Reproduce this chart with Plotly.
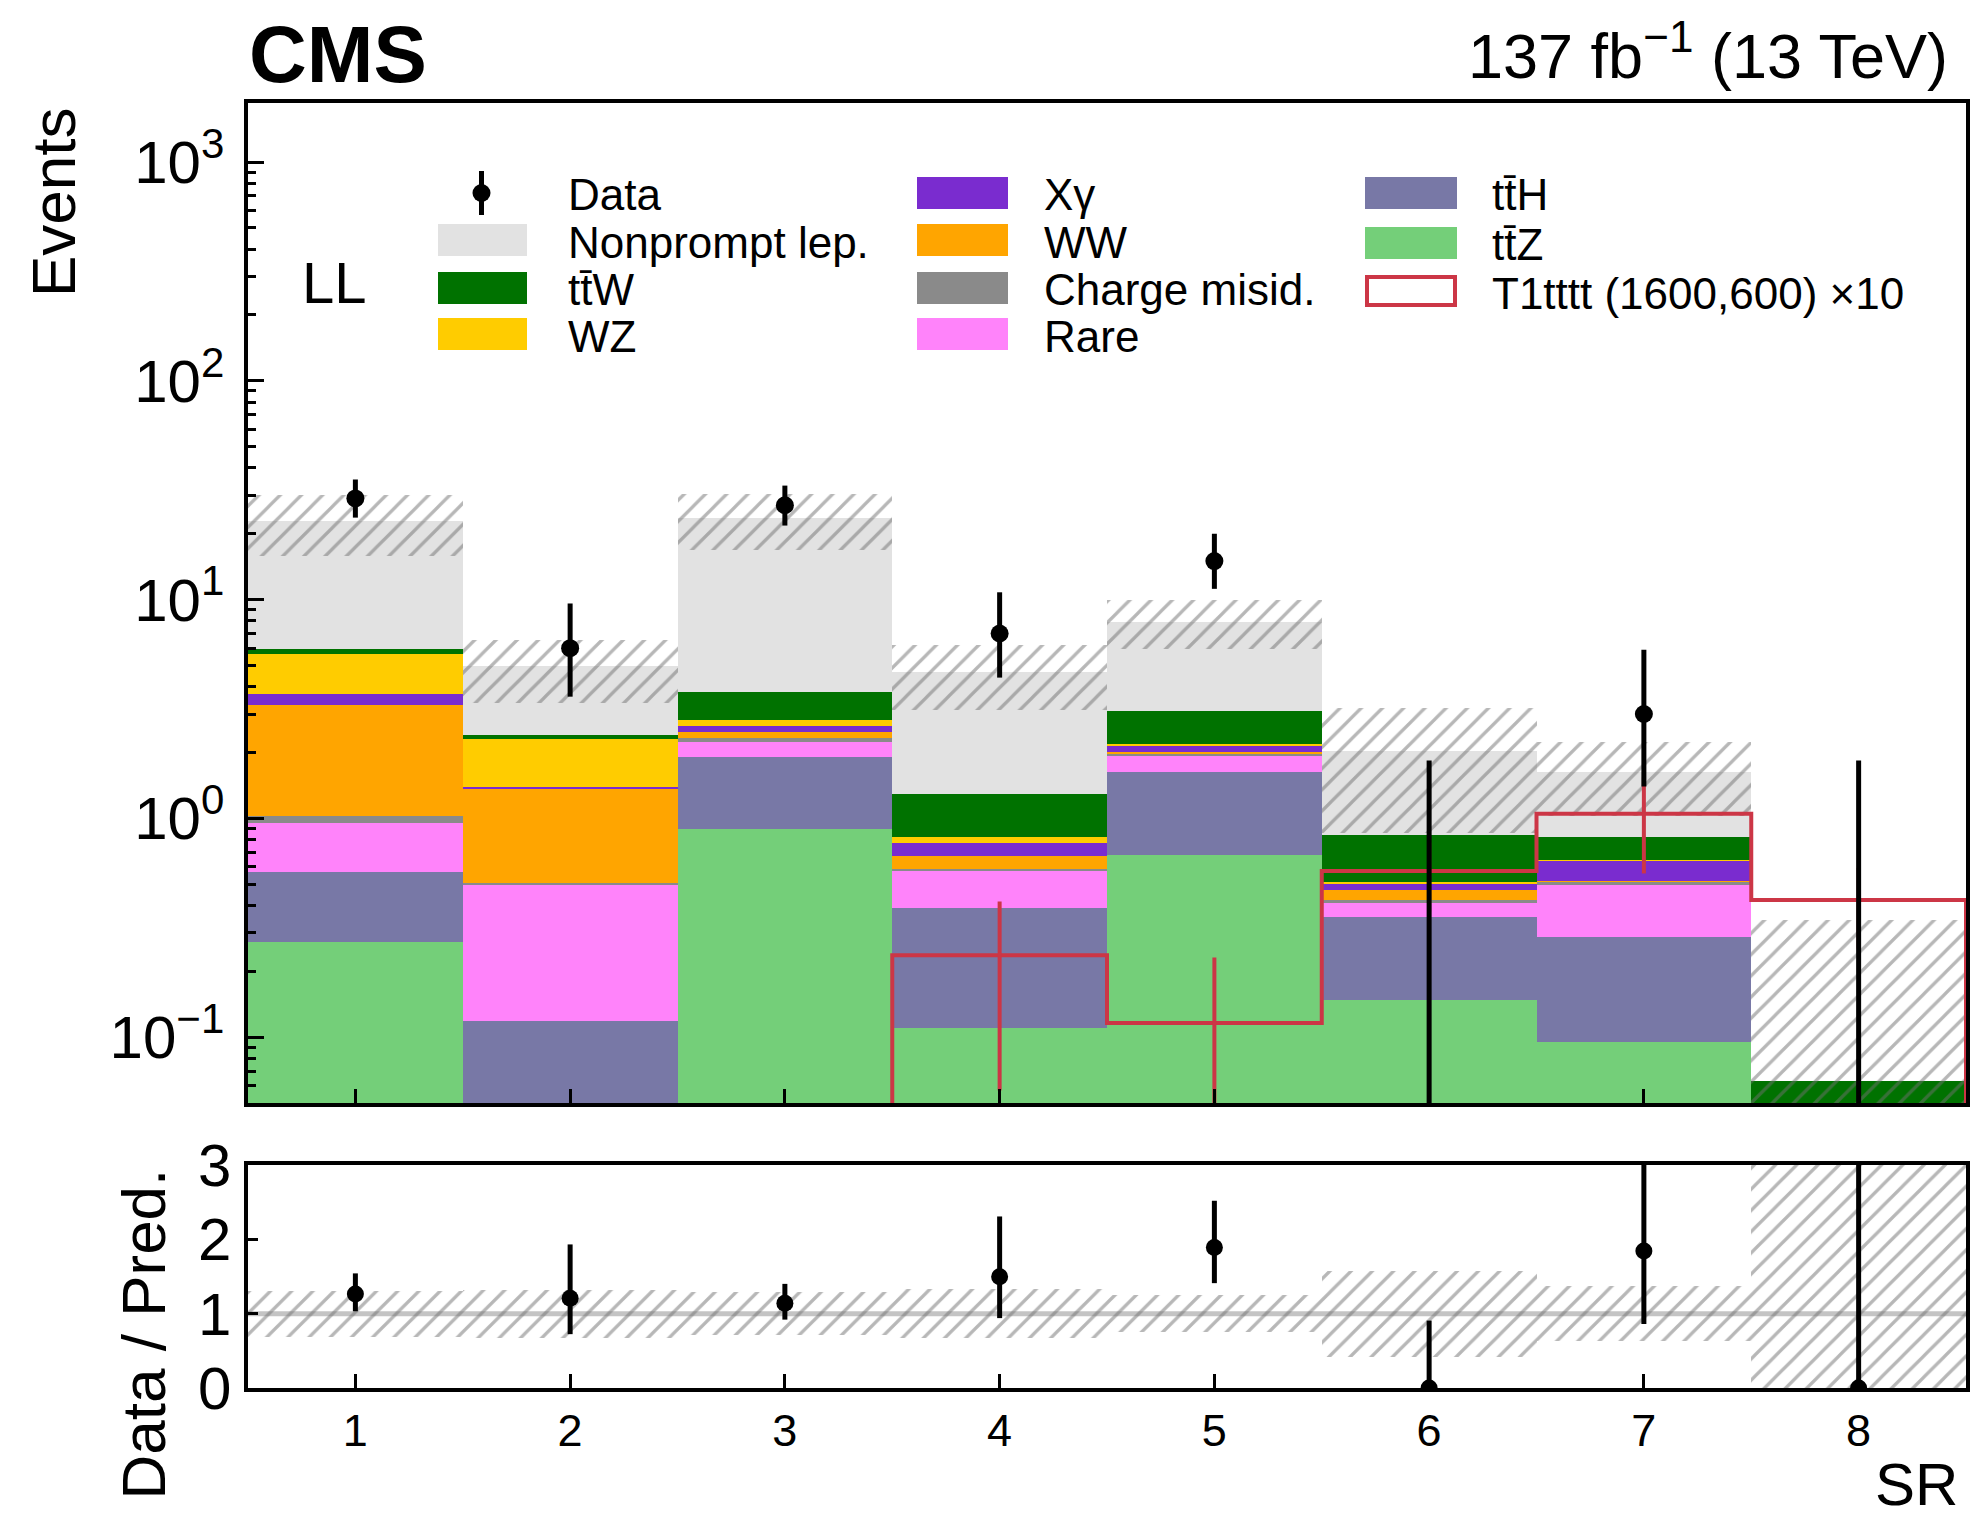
import numpy as np
import plotly.graph_objects as go

# ---------------- data ----------------
bins = [1, 2, 3, 4, 5, 6, 7, 8]
bin_labels = ["1", "2", "3", "4", "5", "6", "7", "8"]

ttZ       = [0.27, 0.02, 0.895, 0.109, 0.676, 0.147, 0.094, 0.0]
ttH       = [0.30, 0.097, 1.015, 0.279, 0.954, 0.207, 0.193, 0.0]
rare      = [0.385, 0.383, 0.33, 0.188, 0.29, 0.056, 0.207, 0.0]
chargemis = [0.065, 0.005, 0.09, 0.012, 0.06, 0.014, 0.018, 0.0]
ww        = [2.26, 0.87, 0.15, 0.082, 0.02, 0.046, 0.003, 0.0]
xgamma    = [0.41, 0.01, 0.15, 0.097, 0.16, 0.034, 0.123, 0.0]
wz        = [1.98, 0.925, 0.19, 0.053, 0.02, 0.007, 0.003, 0.0]
ttW       = [0.29, 0.10, 0.98, 0.47, 0.92, 0.328, 0.176, 0.062]
nonprompt = [17.0, 2.56, 19.9, 3.39, 4.84, 1.19, 0.81, 0.0]

bkg_unc = [7.1, 1.6, 6.8, 1.55, 2.0, 1.17, 0.6, 0.28]

data        = [29, 6, 27, 7, 15, 0, 3, 0]
data_err_lo = [5.3, 2.4, 5.2, 2.6, 3.8, 0.0, 1.6, 0.0]
data_err_hi = [6.4, 3.6, 6.2, 3.8, 5.0, 1.84, 2.9, 1.84]

signal     = [0.0, 0.0, 0.0, 0.237, 0.116, 0.575, 1.05, 0.424]
signal_err = [0.0, 0.0, 0.0, 0.18, 0.115, 0.2, 0.49, 0.17]

y_ticks = [0.1, 1, 10, 100, 1000]
y_ticktext = ["10<sup>\u22121</sup>", "10<sup>0</sup>", "10<sup>1</sup>",
              "10<sup>2</sup>", "10<sup>3</sup>"]
r_ticks = [0, 1, 2, 3]

# ---------------- styles ----------------
FONT = "Liberation Sans, Arial, Helvetica, sans-serif"
W, H = 1973, 1522
C = {
    "ttZ": "#74cf79", "ttH": "#7878a6", "Rare": "#ff83fa", "Charge": "#8a8a8a",
    "WW": "#ffa500", "Xg": "#7a2ccf", "WZ": "#ffcc00", "ttW": "#007200",
    "Nonprompt": "#e2e2e2", "Signal": "#cc3646",
}
HATCH = dict(shape="/", fgcolor="#707070", bgcolor="rgba(0,0,0,0)",
             size=15, solidity=0.22, fillmode="overlay")
FLOOR = 1e-3


def px(x):
    return x / W


def py(y):
    return 1 - y / H


components = [
    ("tt\u0304Z", ttZ, C["ttZ"]),
    ("tt\u0304H", ttH, C["ttH"]),
    ("Rare", rare, C["Rare"]),
    ("Charge misid.", chargemis, C["Charge"]),
    ("WW", ww, C["WW"]),
    ("X\u03b3", xgamma, C["Xg"]),
    ("WZ", wz, C["WZ"]),
    ("tt\u0304W", ttW, C["ttW"]),
    ("Nonprompt lep.", nonprompt, C["Nonprompt"]),
]

fig = go.Figure()

# stacked backgrounds
base = np.full(len(bins), FLOOR)
for name, vals, col in components:
    v = np.array(vals, dtype=float)
    fig.add_trace(go.Bar(x=bins, y=v, base=base, width=1.0, name=name,
                         marker=dict(color=col, line=dict(width=0)),
                         showlegend=False, xaxis="x", yaxis="y"))
    base = base + v
total = base - FLOOR

# signal (x10) step histogram
sig = np.array(signal)
sig_plot = np.maximum(sig, FLOOR)
edges = np.arange(0.5, len(bins) + 1, 1.0)
xs, ys = [edges[0]], [FLOOR]
for i in range(len(bins)):
    xs += [edges[i], edges[i + 1]]
    ys += [sig_plot[i], sig_plot[i]]
xs.append(edges[-1]); ys.append(FLOOR)
fig.add_trace(go.Scatter(x=xs, y=ys, mode="lines", name="T1tttt (1600,600) \u00d710",
                         line=dict(color=C["Signal"], width=4), showlegend=False,
                         xaxis="x", yaxis="y"))
fig.add_trace(go.Scatter(x=bins, y=sig_plot, mode="markers",
                         marker=dict(size=1, color="rgba(0,0,0,0)"),
                         error_y=dict(type="data", array=signal_err, symmetric=True,
                                      color=C["Signal"], thickness=4, width=0),
                         showlegend=False, hoverinfo="skip", xaxis="x", yaxis="y"))

# background uncertainty band
unc = np.array(bkg_unc)
lower = np.maximum(total - unc, FLOOR)
upper = total + unc
fig.add_trace(go.Bar(x=bins, y=upper - lower, base=lower, width=1.0,
                     marker=dict(color="rgba(0,0,0,0)", pattern=HATCH, line=dict(width=0)),
                     showlegend=False, hoverinfo="skip", xaxis="x", yaxis="y"))

# data
d = np.array(data, dtype=float)
d_plot = np.where(d > 0, d, FLOOR)
d_hi = d + np.array(data_err_hi) - d_plot
d_lo = np.where(d > 0, np.array(data_err_lo), 0.0)
fig.add_trace(go.Scatter(x=bins, y=d_plot, mode="markers", name="Data",
                         marker=dict(size=18, color="black"),
                         error_y=dict(type="data", array=d_hi, arrayminus=d_lo,
                                      color="black", thickness=5, width=0),
                         showlegend=False, xaxis="x", yaxis="y"))

# ratio panel
rel = unc / total
fig.add_trace(go.Bar(x=bins, y=2 * rel, base=1 - rel, width=1.0,
                     marker=dict(color="rgba(0,0,0,0)", pattern=HATCH, line=dict(width=0)),
                     showlegend=False, hoverinfo="skip", xaxis="x2", yaxis="y2"))
ratio = d / total
fig.add_trace(go.Scatter(x=bins, y=ratio, mode="markers",
                         marker=dict(size=17, color="black"),
                         error_y=dict(type="data", array=np.array(data_err_hi) / total,
                                      arrayminus=np.array(data_err_lo) / total,
                                      color="black", thickness=5, width=0),
                         showlegend=False, xaxis="x2", yaxis="y2"))

XDOM = [px(248), px(1966)]
axis_common = dict(showline=True, linewidth=3.5, linecolor="black", mirror=True,
                   showgrid=False, zeroline=False, ticks="inside", tickcolor="black",
                   automargin=False)
YFONT = dict(family=FONT, size=60, color="black")
XFONT = dict(family=FONT, size=45, color="black")

minor_vals = [k * 10.0 ** e for e in range(-2, 4) for k in range(2, 10)]

fig.update_layout(
    width=W, height=H, autosize=False,
    margin=dict(l=0, r=0, t=0, b=0, pad=0, autoexpand=False),
    paper_bgcolor="white", plot_bgcolor="rgba(0,0,0,0)",
    barmode="overlay", bargap=0, showlegend=False,
    font=dict(family=FONT, color="black"),
    xaxis=dict(domain=XDOM, anchor="y", range=[0.5, 8.5], tickvals=bins,
               showticklabels=False, ticklen=14, tickwidth=2.5, **axis_common),
    yaxis=dict(domain=[py(1103), py(103)], anchor="x", type="log",
               range=[np.log10(0.05), 3.27], tickvals=y_ticks, ticktext=y_ticktext,
               ticklen=16, tickwidth=2.5, ticklabelstandoff=8, tickfont=YFONT,
               minor=dict(tickmode="array", tickvals=minor_vals, ticks="inside",
                          ticklen=8, tickwidth=2.5, tickcolor="black", showgrid=False),
               **axis_common),
    xaxis2=dict(domain=XDOM, anchor="y2", range=[0.5, 8.5], tickvals=bins,
                ticktext=bin_labels, ticklen=14, tickwidth=2.5, ticklabelstandoff=0,
                tickfont=XFONT, **axis_common),
    yaxis2=dict(domain=[py(1388), py(1165)], anchor="x2", range=[0, 3],
                tickvals=r_ticks, ticklen=10, tickwidth=2.5, ticklabelstandoff=1,
                tickfont=YFONT, **axis_common),
)

fig.add_shape(type="line", xref="x2 domain", yref="y2", x0=0, x1=1, y0=1, y1=1,
              line=dict(color="#c4c4c4", width=5), layer="below")

# ---------------- texts ----------------
ann = []
ann.append(dict(text="<b>CMS</b>", x=px(247), y=py(54), xanchor="left", yanchor="middle",
                font=dict(size=80, family=FONT)))
ann.append(dict(text="137 fb<sup>\u22121</sup> (13 TeV)", x=px(1950), y=py(52),
                xanchor="right", yanchor="middle", font=dict(size=63, family=FONT)))
ann.append(dict(text="LL", x=px(300), y=py(282), xanchor="left", yanchor="middle",
                font=dict(size=58, family=FONT)))
ann.append(dict(text="Events", x=px(53), y=py(105), xanchor="center", yanchor="top",
                textangle=-90, font=dict(size=62, family=FONT)))
ann.append(dict(text="Data / Pred.", x=px(143), y=py(1167), xanchor="center", yanchor="top",
                textangle=-90, font=dict(size=62, family=FONT)))
ann.append(dict(text="SR", x=px(1960), y=py(1520), xanchor="right", yanchor="bottom",
                font=dict(size=60, family=FONT)))

# ---------------- legend (three columns) ----------------
rows = [193, 240, 288, 334]
cols = [(438, 527, 566), (917, 1008, 1042), (1365, 1457, 1490)]
legend_entries = [
    (0, 0, "Data", None),
    (0, 1, "Nonprompt lep.", C["Nonprompt"]),
    (0, 2, "tt\u0304W", C["ttW"]),
    (0, 3, "WZ", C["WZ"]),
    (1, 0, "X\u03b3", C["Xg"]),
    (1, 1, "WW", C["WW"]),
    (1, 2, "Charge misid.", C["Charge"]),
    (1, 3, "Rare", C["Rare"]),
    (2, 0, "tt\u0304H", C["ttH"]),
    (2, 1, "tt\u0304Z", C["ttZ"]),
    (2, 2, "T1tttt (1600,600) \u00d710", "signal"),
]
shapes = []
for ci, ri, label, col in legend_entries:
    x0, x1, xt = cols[ci]
    yc = rows[ri]
    if col is None:
        xm = (x0 + x1) / 2 - 1
        shapes.append(dict(type="line", xref="paper", yref="paper", x0=px(xm), x1=px(xm),
                           y0=py(yc - 22), y1=py(yc + 22), line=dict(color="black", width=5)))
        shapes.append(dict(type="circle", xref="paper", yref="paper", x0=px(xm - 9), x1=px(xm + 9),
                           y0=py(yc - 9), y1=py(yc + 9), fillcolor="black", line=dict(width=0)))
    elif col == "signal":
        yc = yc + 3
        shapes.append(dict(type="rect", xref="paper", yref="paper", x0=px(x0 + 2), x1=px(x1 - 2),
                           y0=py(yc - 14), y1=py(yc + 14), fillcolor="white",
                           line=dict(color=C["Signal"], width=4)))
    else:
        if ri > 0 and ci == 2:
            yc = yc + 3
        shapes.append(dict(type="rect", xref="paper", yref="paper", x0=px(x0), x1=px(x1),
                           y0=py(yc - 16), y1=py(yc + 16), fillcolor=col, line=dict(width=0)))
    ann.append(dict(text=label, x=px(xt), y=py(yc + 2), xanchor="left", yanchor="middle",
                    font=dict(size=44, family=FONT)))

for a in ann:
    a.update(xref="paper", yref="paper", showarrow=False)
fig.update_layout(annotations=ann, shapes=list(fig.layout.shapes) + shapes)

fig.write_html("out.html")
